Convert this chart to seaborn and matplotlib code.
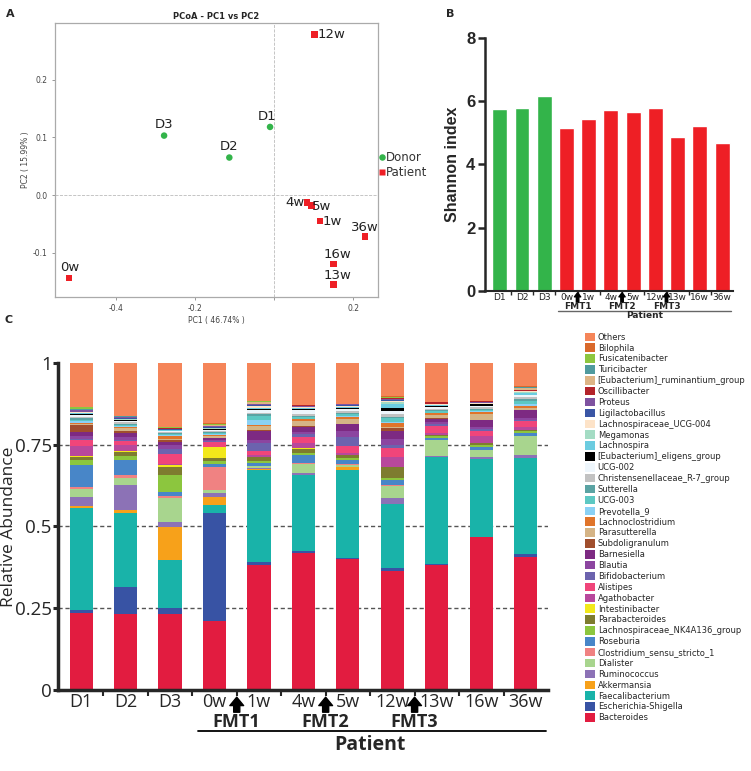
import numpy as np
import pandas as pd
import matplotlib as mpl
mpl.use("Agg")
import matplotlib.pyplot as plt
import seaborn as sns

sns.set_style("white")
plt.rcParams["font.family"] = ["DejaVu Sans"]

# ---- data ----
samples = ["D1", "D2", "D3", "0w", "1w", "4w", "5w", "12w", "13w", "16w", "36w"]
group = ["Donor"] * 3 + ["Patient"] * 8

# PCoA coordinates
pc1 = [-0.010, -0.113, -0.278, -0.519, 0.116, 0.084, 0.095, 0.102, 0.151, 0.150, 0.230]
pc2 = [0.118, 0.065, 0.103, -0.144, -0.045, -0.013, -0.018, 0.278, -0.155, -0.119, -0.072]

# Shannon diversity
shannon = [5.75, 5.78, 6.18, 5.15, 5.43, 5.74, 5.66, 5.79, 4.88, 5.23, 4.69]

# relative abundance per genus (same order as samples)
bacteroides = [0.235, 0.231, 0.232, 0.211, 0.382, 0.420, 0.400, 0.364, 0.382, 0.467, 0.408]
escherichia = [0.010, 0.085, 0.020, 0.329, 0.008, 0.006, 0.005, 0.010, 0.003, 0.002, 0.008]
faecalibacterium = [0.310, 0.224, 0.145, 0.026, 0.283, 0.230, 0.268, 0.194, 0.328, 0.236, 0.293]
akkermansia = [0.008, 0.010, 0.102, 0.025, 0.003, 0.002, 0.008, 0.000, 0.000, 0.000, 0.000]
ruminococcus = [0.028, 0.076, 0.015, 0.012, 0.002, 0.006, 0.001, 0.020, 0.003, 0.009, 0.009]
dialister = [0.025, 0.023, 0.073, 0.008, 0.006, 0.028, 0.006, 0.037, 0.048, 0.020, 0.058]
clostridium_ss1 = [0.006, 0.007, 0.005, 0.072, 0.002, 0.002, 0.004, 0.002, 0.001, 0.001, 0.001]
roseburia = [0.066, 0.046, 0.013, 0.008, 0.008, 0.024, 0.012, 0.015, 0.007, 0.009, 0.010]
lachno_nk4a136 = [0.015, 0.015, 0.051, 0.010, 0.007, 0.006, 0.005, 0.005, 0.004, 0.004, 0.006]
parabacteroides = [0.008, 0.010, 0.026, 0.007, 0.012, 0.014, 0.010, 0.034, 0.003, 0.006, 0.003]
intestinibacter = [0.004, 0.005, 0.005, 0.034, 0.001, 0.001, 0.000, 0.002, 0.000, 0.000, 0.000]
agathobacter = [0.031, 0.018, 0.003, 0.002, 0.004, 0.015, 0.005, 0.030, 0.007, 0.022, 0.009]
alistipes = [0.018, 0.012, 0.033, 0.015, 0.014, 0.020, 0.022, 0.028, 0.022, 0.017, 0.017]
bifidobacterium = [0.003, 0.004, 0.014, 0.003, 0.024, 0.008, 0.027, 0.008, 0.004, 0.004, 0.003]
blautia = [0.010, 0.008, 0.012, 0.004, 0.010, 0.008, 0.020, 0.020, 0.008, 0.008, 0.008]
barnesiella = [0.013, 0.012, 0.010, 0.004, 0.025, 0.014, 0.020, 0.022, 0.010, 0.020, 0.022]
subdoligranulum = [0.020, 0.006, 0.004, 0.002, 0.003, 0.002, 0.001, 0.010, 0.002, 0.002, 0.002]
parasutterella = [0.003, 0.008, 0.006, 0.004, 0.012, 0.016, 0.014, 0.002, 0.010, 0.018, 0.006]
lachnoclostridium = [0.004, 0.005, 0.008, 0.003, 0.005, 0.006, 0.008, 0.013, 0.004, 0.005, 0.004]
prevotella_9 = [0.005, 0.003, 0.002, 0.004, 0.014, 0.002, 0.002, 0.004, 0.002, 0.002, 0.008]
ucg_003 = [0.005, 0.003, 0.004, 0.004, 0.014, 0.005, 0.006, 0.012, 0.004, 0.004, 0.008]
sutterella = [0.004, 0.002, 0.002, 0.003, 0.004, 0.002, 0.003, 0.004, 0.004, 0.003, 0.008]
christensenellaceae = [0.005, 0.006, 0.003, 0.003, 0.004, 0.008, 0.006, 0.008, 0.004, 0.006, 0.004]
ucg_002 = [0.004, 0.005, 0.004, 0.003, 0.008, 0.010, 0.005, 0.008, 0.006, 0.004, 0.007]
eub_eligens = [0.004, 0.001, 0.001, 0.001, 0.004, 0.005, 0.005, 0.010, 0.003, 0.005, 0.001]
lachnospira = [0.002, 0.002, 0.001, 0.001, 0.002, 0.002, 0.002, 0.012, 0.002, 0.001, 0.006]
megamonas = [0.001, 0.001, 0.001, 0.002, 0.002, 0.001, 0.001, 0.008, 0.001, 0.001, 0.002]
lachno_ucg004 = [0.002, 0.001, 0.001, 0.001, 0.006, 0.001, 0.003, 0.003, 0.002, 0.003, 0.002]
ligilactobacillus = [0.002, 0.003, 0.001, 0.003, 0.002, 0.001, 0.002, 0.001, 0.001, 0.000, 0.001]
proteus = [0.004, 0.002, 0.002, 0.003, 0.004, 0.004, 0.003, 0.004, 0.001, 0.001, 0.001]
oscillibacter = [0.001, 0.001, 0.001, 0.001, 0.001, 0.001, 0.000, 0.002, 0.005, 0.004, 0.001]
eub_ruminantium = [0.001, 0.001, 0.000, 0.001, 0.004, 0.000, 0.000, 0.001, 0.000, 0.000, 0.006]
turicibacter = [0.002, 0.001, 0.001, 0.002, 0.001, 0.000, 0.000, 0.001, 0.000, 0.000, 0.005]
fusicatenibacter = [0.005, 0.001, 0.002, 0.003, 0.002, 0.001, 0.001, 0.003, 0.001, 0.001, 0.001]
bilophila = [0.001, 0.000, 0.000, 0.001, 0.001, 0.000, 0.000, 0.001, 0.000, 0.000, 0.002]
others = [0.135, 0.162, 0.197, 0.185, 0.116, 0.129, 0.125, 0.101, 0.118, 0.115, 0.070]

# legend order (top of stack first)
genera = [
    ("Others", others, "#F58559"),
    ("Bilophila", bilophila, "#D9692B"),
    ("Fusicatenibacter", fusicatenibacter, "#8DC63F"),
    ("Turicibacter", turicibacter, "#4F9A9E"),
    ("[Eubacterium]_ruminantium_group", eub_ruminantium, "#DDB485"),
    ("Oscillibacter", oscillibacter, "#B3232A"),
    ("Proteus", proteus, "#7E52A0"),
    ("Ligilactobacillus", ligilactobacillus, "#3A56A5"),
    ("Lachnospiraceae_UCG-004", lachno_ucg004, "#FDE3C8"),
    ("Megamonas", megamonas, "#A4DCC4"),
    ("Lachnospira", lachnospira, "#6CCCE0"),
    ("[Eubacterium]_eligens_group", eub_eligens, "#000000"),
    ("UCG-002", ucg_002, "#EEF6FC"),
    ("Christensenellaceae_R-7_group", christensenellaceae, "#C2C2C2"),
    ("Sutterella", sutterella, "#5AA3A3"),
    ("UCG-003", ucg_003, "#5DC8C3"),
    ("Prevotella_9", prevotella_9, "#8AD1F5"),
    ("Lachnoclostridium", lachnoclostridium, "#E0742A"),
    ("Parasutterella", parasutterella, "#D5B486"),
    ("Subdoligranulum", subdoligranulum, "#A04E2D"),
    ("Barnesiella", barnesiella, "#7D2A82"),
    ("Blautia", blautia, "#8C45A0"),
    ("Bifidobacterium", bifidobacterium, "#6C63AE"),
    ("Alistipes", alistipes, "#F0457A"),
    ("Agathobacter", agathobacter, "#B8489C"),
    ("Intestinibacter", intestinibacter, "#F2E81A"),
    ("Parabacteroides", parabacteroides, "#7E7C2F"),
    ("Lachnospiraceae_NK4A136_group", lachno_nk4a136, "#8CC63E"),
    ("Roseburia", roseburia, "#4886C8"),
    ("Clostridium_sensu_stricto_1", clostridium_ss1, "#F08282"),
    ("Dialister", dialister, "#A8D58E"),
    ("Ruminococcus", ruminococcus, "#8C72B6"),
    ("Akkermansia", akkermansia, "#F7A11A"),
    ("Faecalibacterium", faecalibacterium, "#19B3A9"),
    ("Escherichia-Shigella", escherichia, "#3853A4"),
    ("Bacteroides", bacteroides, "#E21C40"),
]

green = "#33B44A"
red = "#EE1F25"

fig = plt.figure(figsize=(7.51, 7.71), dpi=100)

# ================= A: PCoA =================
axa = fig.add_axes([0.0732, 0.6152, 0.4301, 0.3554])
axa.axhline(0, color="#bbbbbb", ls="--", lw=0.6, zorder=0)
axa.axvline(0, color="#bbbbbb", ls="--", lw=0.6, zorder=0)
sns.scatterplot(x=pc1, y=pc2, hue=group, style=group,
                markers={"Donor": "o", "Patient": "s"},
                palette={"Donor": green, "Patient": red},
                s=22, edgecolor="none", ax=axa)
axa.set_xlim(-0.554, 0.263)
axa.set_ylim(-0.176, 0.2986)
axa.set_xticks([-0.4, -0.2, 0.0, 0.2])
axa.set_xticklabels(["-0.4", "-0.2", "", "0.2"])
axa.set_yticks([-0.1, 0.0, 0.1, 0.2])
axa.set_yticklabels(["-0.1", "0.0", "0.1", "0.2"])
axa.tick_params(labelsize=5.5, labelcolor="#444444", length=2, width=0.6,
                color="#888888", bottom=True, left=True)
for sp in axa.spines.values():
    sp.set_color("#aaaaaa")
    sp.set_linewidth(0.9)
axa.set_title("PCoA - PC1 vs PC2", fontsize=6, fontweight="bold", pad=3)
axa.set_xlabel("PC1 ( 46.74% )", fontsize=5.5, color="#444444", labelpad=2)
axa.set_ylabel("PC2 ( 15.99% )", fontsize=5.5, color="#444444", labelpad=2)

# point labels: (dx, dy) in points, ha, va
label_pos = {
    "D1": (-2, 3, "center", "bottom"), "D2": (0, 3, "center", "bottom"),
    "D3": (0, 3, "center", "bottom"), "0w": (1, 3, "center", "bottom"),
    "1w": (2, 0, "left", "center"), "4w": (-2, 0, "right", "center"),
    "5w": (0, -1, "left", "center"), "12w": (2, 0, "left", "center"),
    "13w": (3, 2, "center", "bottom"), "16w": (3, 2, "center", "bottom"),
    "36w": (0, 2, "center", "bottom"),
}
for name, x, y in zip(samples, pc1, pc2):
    dx, dy, ha, va = label_pos[name]
    axa.annotate(name, (x, y), xytext=(dx, dy), textcoords="offset points",
                 ha=ha, va=va, fontsize=9.5, color="#222222")
sns.move_legend(axa, "upper left", bbox_to_anchor=(1.0, 0.53), frameon=False,
                title=None, fontsize=8.5, handletextpad=0.1, handlelength=0.6,
                labelspacing=0.15, borderaxespad=0, borderpad=0)
for t in axa.get_legend().get_texts():
    t.set_color("#333333")

# ================= B: Shannon =================
axb = fig.add_axes([0.6458, 0.6230, 0.3302, 0.3274])
sns.barplot(x=samples, y=shannon, hue=group, palette={"Donor": green, "Patient": red},
            dodge=False, width=0.67, saturation=1, legend=False, ax=axb)
axb.set_xlim(-0.665, 10.49)
axb.set_ylim(0, 8)
axb.set_yticks([0, 2, 4, 6, 8])
axb.set_yticklabels(["0", "2", "4", "6", "8"], fontsize=12, fontweight="bold",
                    family="Liberation Sans")
axb.set_ylabel("Shannon index", fontsize=11.5, fontweight="bold",
               family="Liberation Sans", labelpad=4)
axb.set_xticks(range(len(samples)))
axb.set_xticklabels(samples, fontsize=6.5, color="#222222")
axb.set_xticks(np.arange(0.5, 10.5, 1), minor=True)
axb.tick_params(axis="x", which="major", length=0, pad=2)
axb.tick_params(axis="x", which="minor", length=3, width=1, bottom=True, direction="out")
axb.tick_params(axis="y", length=5, width=1.8, left=True, direction="out", pad=2)
sns.despine(ax=axb)
axb.spines["left"].set_linewidth(1.8)
axb.spines["bottom"].set_linewidth(1.5)

trb = axb.get_xaxis_transform()
for xpos, lab in zip([3.5, 5.5, 7.5], ["FMT1", "FMT2", "FMT3"]):
    axb.annotate("", xy=(xpos, -0.008), xycoords=trb, xytext=(xpos, -0.046), textcoords=trb,
                 arrowprops=dict(arrowstyle="simple,head_length=0.6,head_width=0.9,tail_width=0.35",
                                 color="black", shrinkA=0, shrinkB=0),
                 annotation_clip=False, fontsize=5)
    axb.text(xpos, -0.063, lab, transform=trb, ha="center", va="center",
             fontsize=6.5, fontweight="bold")
axb.plot([2.63, 10.4], [-0.080, -0.080], transform=trb, color="#666666", lw=1, clip_on=False)
axb.text(6.5, -0.100, "Patient", transform=trb, ha="center", va="center",
         fontsize=6.5, fontweight="bold")

# ================= C: stacked composition =================
axc = fig.add_axes([0.0772, 0.1051, 0.6525, 0.4241])
rows = []
for name, vals, _ in genera:
    for i, v in enumerate(vals):
        rows.append((i, name, v))
df = pd.DataFrame(rows, columns=["pos", "genus", "abundance"])
for yl in [0.25, 0.5, 0.75]:
    axc.axhline(yl, color="#555555", ls=(0, (3, 2)), lw=1, zorder=0)
sns.histplot(data=df, x="pos", weights="abundance", hue="genus",
             hue_order=[g[0] for g in genera], palette=[g[2] for g in genera],
             multiple="stack", discrete=True, shrink=0.52, alpha=1, linewidth=0,
             ax=axc)
axc.set_xlim(-0.52, 10.5)
axc.set_ylim(0, 1)
axc.set_yticks([0, 0.25, 0.5, 0.75, 1])
axc.set_yticklabels(["0", "0.25", "0.5", "0.75", "1"], fontsize=13.5, family="Open Sans")
axc.set_ylabel("")
fig.text(0.0115, 0.317, "Relative Abundance", rotation=90, ha="center", va="center",
         fontsize=12.5, family="Open Sans")
axc.set_xlabel("")
axc.set_xticks(range(len(samples)))
axc.set_xticklabels(samples, fontsize=13, family="Open Sans")
axc.set_xticks(np.arange(0.5, 10.5, 1), minor=True)
axc.tick_params(axis="x", which="major", length=0, pad=2)
axc.tick_params(axis="x", which="minor", length=4, width=1.5, bottom=True, direction="out")
axc.tick_params(axis="y", length=3.5, width=2.2, left=True, direction="out", pad=1)
sns.despine(ax=axc)
axc.spines["left"].set_linewidth(2.5)
axc.spines["bottom"].set_linewidth(2.5)

trc = axc.get_xaxis_transform()
for xpos, lab in zip([3.5, 5.5, 7.5], ["FMT1", "FMT2", "FMT3"]):
    axc.annotate("", xy=(xpos, -0.022), xycoords=trc, xytext=(xpos, -0.068), textcoords=trc,
                 arrowprops=dict(arrowstyle="simple,head_length=0.55,head_width=0.9,tail_width=0.4",
                                 color="black", shrinkA=0, shrinkB=0),
                 annotation_clip=False, fontsize=11)
    axc.text(xpos, -0.098, lab, transform=trc, ha="center", va="center",
             fontsize=13, fontweight="bold", family="Open Sans")
axc.plot([2.63, 10.45], [-0.125, -0.125], transform=trc, color="black", lw=1.3, clip_on=False)
axc.text(6.5, -0.168, "Patient", transform=trc, ha="center", va="center",
         fontsize=14, fontweight="bold", family="Open Sans")

sns.move_legend(axc, "upper left", bbox_to_anchor=(1.075, 1.093), frameon=False,
                title=None, fontsize=6.0, labelspacing=0.215, handlelength=1.25,
                handleheight=1.2, handletextpad=0.3, borderaxespad=0, borderpad=0)

# panel letters
fig.text(0.008, 0.988, "A", fontsize=8, fontweight="bold", va="top")
fig.text(0.594, 0.988, "B", fontsize=8, fontweight="bold", va="top")
fig.text(0.006, 0.592, "C", fontsize=8, fontweight="bold", va="top")

fig.savefig("out.png", dpi=100)
